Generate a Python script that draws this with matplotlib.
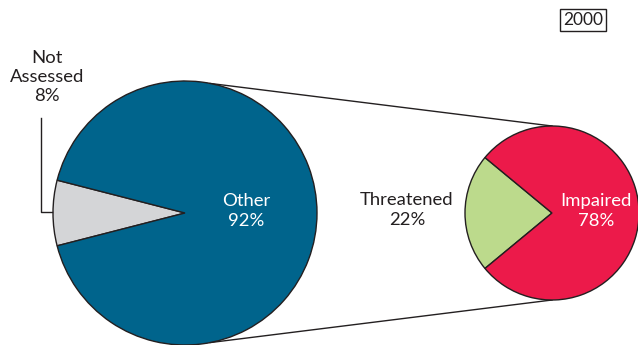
import numpy as np
import matplotlib.pyplot as plt

# data
big_labels = ['Not\nAssessed\n8%', 'Other\n92%']
big_values = [8, 92]
big_colors = ['#d4d5d7', '#00648c']

small_labels = ['Threatened\n22%', 'Impaired\n78%']
small_values = [22, 78]
small_colors = ['#bcda8c', '#ec1a4a']

year = '2000'

plt.rcParams['font.family'] = ['Lato', 'DejaVu Sans']

W, H = 638, 345
fig = plt.figure(figsize=(W / 100, H / 100), dpi=100)
ax = fig.add_axes([0, 0, 1, 1])

edge = '#231f20'
big_c, big_r = (185, H - 213), 132
small_c, small_r = (552, H - 213), 87

# big pie: "Not Assessed" slice centered on the left side
ax.pie(big_values, colors=big_colors, center=big_c, radius=big_r,
       startangle=180 - big_values[0] * 3.6 / 2, counterclock=True,
       wedgeprops=dict(edgecolor=edge, linewidth=1.0), frame=True)

# small pie: "Threatened" slice centered on the left side
ax.pie(small_values, colors=small_colors, center=small_c, radius=small_r,
       startangle=180 - small_values[0] * 3.6 / 2, counterclock=True,
       wedgeprops=dict(edgecolor=edge, linewidth=1.0), frame=True)

# connector lines from the big pie to the small pie
for sgn in (1, -1):
    a = np.deg2rad(79)
    x0 = big_c[0] + big_r * np.cos(a)
    y0 = big_c[1] + sgn * big_r * np.sin(a)
    x1 = small_c[0]
    y1 = small_c[1] + sgn * small_r
    ax.plot([x0, x1], [y0, y1], color=edge, lw=1.0, zorder=0)

fs = 13.3
ax.text(246, H - 211, big_labels[1], color='white', fontsize=fs,
        ha='center', va='center', linespacing=1.3)
ax.text(47, H - 77, big_labels[0], color='#231f20', fontsize=fs,
        ha='center', va='center', linespacing=1.22)
# leader line for Not Assessed
ax.plot([52, 41, 41], [H - 212, H - 212, H - 118], color=edge, lw=1.0)

ax.text(407, H - 210, small_labels[0], color='#231f20', fontsize=fs,
        ha='center', va='center', linespacing=1.3)
ax.text(596, H - 211, small_labels[1], color='white', fontsize=fs,
        ha='center', va='center', linespacing=1.3)

ax.text(583, H - 20, year, color='#231f20', fontsize=12.5, ha='center', va='center',
        bbox=dict(boxstyle='square,pad=0.15', fc='white', ec=edge, lw=1.0))

ax.set_xlim(0, W)
ax.set_ylim(0, H)
ax.set_aspect('equal')
ax.axis('off')

fig.savefig('out.png', dpi=100)
